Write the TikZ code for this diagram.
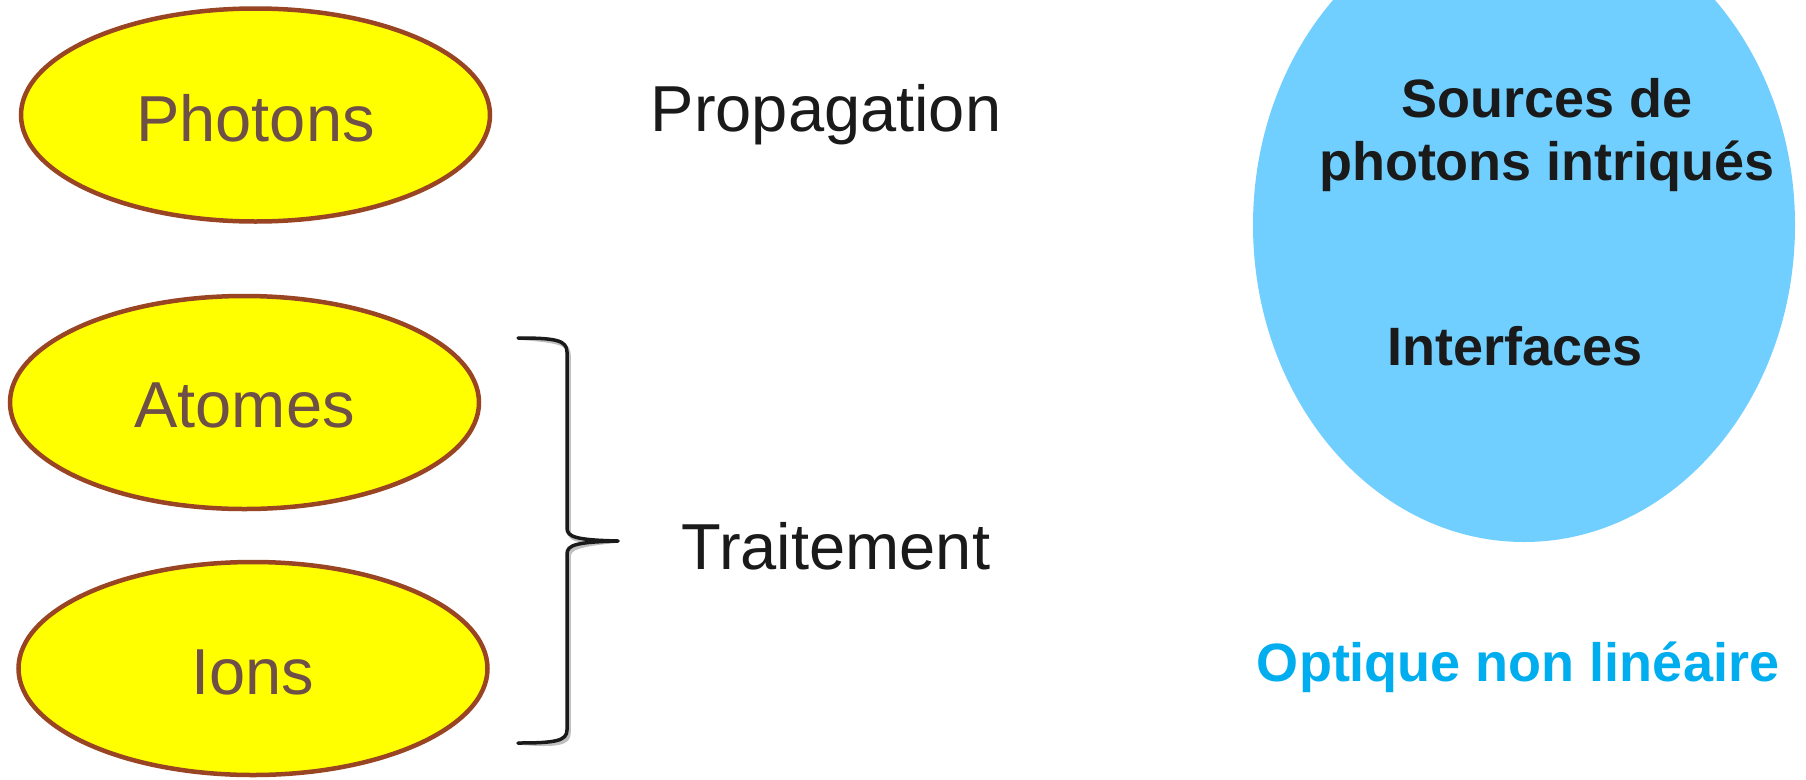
\documentclass[tikz,border=0pt]{standalone}
\usepackage{fontspec}
\setmainfont{Liberation Sans}
\usetikzlibrary{shapes.geometric}
\definecolor{ellfill}{RGB}{255,255,0}
\definecolor{ellline}{RGB}{153,68,34}
\definecolor{elltext}{RGB}{110,80,72}
\definecolor{circfill}{RGB}{112,207,255}
\definecolor{bluetext}{RGB}{0,174,239}
\definecolor{darktext}{RGB}{26,26,26}
\tikzset{
  particle/.style={ellipse, fill=ellfill, draw=ellline, line width=4.5pt,
    minimum width=469pt, minimum height=213pt, inner sep=0pt},
  particletext/.style={text=elltext, font=\fontsize{65}{78}\selectfont, inner sep=0pt},
  label/.style={text=darktext, font=\fontsize{65}{78}\selectfont, inner sep=0pt},
  boldlabel/.style={text=darktext, font=\fontsize{54}{63}\selectfont\bfseries, inner sep=0pt, align=center},
  bracestyle/.style={line width=3.5pt, draw=darktext, line cap=round, line join=round},
}
\begin{document}
\begin{tikzpicture}[x=1pt,y=-1pt]
\useasboundingbox (0,0) rectangle (1806,779);
\clip (0,0) rectangle (1806,779);
\fill[white] (0,0) rectangle (1806,779);

% left ellipses
\node[particle] (photons) at (255.5,115) {};
\node[particle] (atomes) at (244.5,402.5) {};
\node[particle] (ions) at (253,668.5) {};
\node[particletext] (photonst) at ([yshift=-3.5pt]photons.center) {Photons};
\node[particletext] (atomest) at ([yshift=-3pt]atomes.center) {Atomes};
\node[particletext] (ionst) at ([yshift=-3.5pt]ions.center) {Ions};

% labels
\node[label] (prop) at (826,114.5) {Propagation};
\node[label] (trait) at (836,546) {Traitement};

% brace
\coordinate (btop) at (518,338);
\coordinate (btip) at (618,541);
\coordinate (bbot) at (518,743);
\draw[bracestyle, draw=black!25, shift={(2,3)}]
  (btop) .. controls (555,338) and (567,340) .. (567,352) -- (567,528)
  .. controls (567,537) and (576,540) .. (btip)
  .. controls (576,542) and (567,545) .. (567,554) -- (567,730)
  .. controls (567,741) and (555,743) .. (bbot);
\draw[bracestyle]
  (btop) .. controls (555,338) and (567,340) .. (567,352) -- (567,528)
  .. controls (567,537) and (576,540) .. (btip)
  .. controls (576,542) and (567,545) .. (567,554) -- (567,730)
  .. controls (567,741) and (555,743) .. (bbot);

% blue circle
\node[ellipse, fill=circfill, draw=none, minimum width=542pt, minimum height=634pt, inner sep=0pt] (circ) at (1524,225) {};
\node[boldlabel] (sources) at (1547,135.5) {Sources de\\photons intriqués};
\node[boldlabel] (interf) at (1515,346) {Interfaces};
\node[boldlabel, text=bluetext] (optique) at (1518,667.5) {Optique non linéaire};
\end{tikzpicture}
\end{document}
